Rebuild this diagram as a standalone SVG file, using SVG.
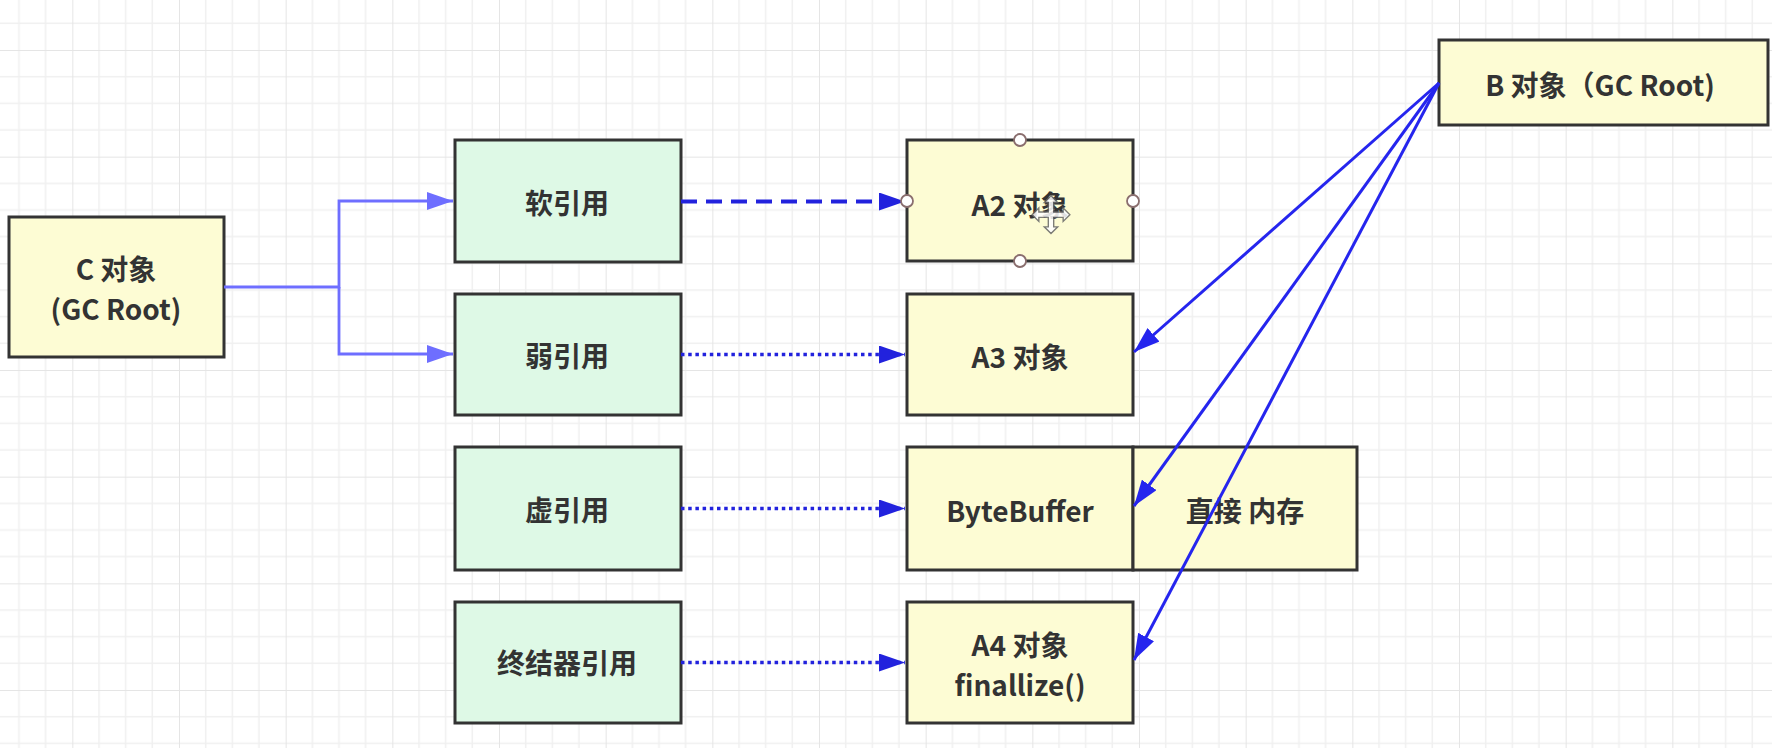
<svg xmlns="http://www.w3.org/2000/svg" width="1772" height="748" viewBox="0 0 1772 748">
<style>
.box{stroke:#333;stroke-width:3}
.y{fill:#fdfcd4}
.g{fill:#def9e6}
.t{font-family:"Noto Sans CJK SC","Noto Sans",sans-serif;font-weight:bold;font-size:28px;fill:#333;text-anchor:middle;dominant-baseline:central}
.c{fill:none;stroke:#6e6eff;stroke-width:2.8}
.b{fill:none;stroke:#2525ee;stroke-width:3}
.dash{fill:none;stroke:#2222dd;stroke-width:4;stroke-dasharray:16 9}
.dot{fill:none;stroke:#2222dd;stroke-width:3.5;stroke-dasharray:3.5 3.7}
.h{fill:#fff;stroke:#8a6e6e;stroke-width:1.8}
</style>
<defs>
<pattern id="grid" patternUnits="userSpaceOnUse" x="72.33" y="50" width="106.667" height="106.667">
<path d="M26.667 0V106.667M53.333 0V106.667M80 0V106.667M0 26.667H106.667M0 53.333H106.667M0 80H106.667" stroke="#f0f0f0" stroke-width="1.5" fill="none"/>
<path d="M0 0V106.667M0 0H106.667" stroke="#e5e5e5" stroke-width="2" fill="none"/>
</pattern>
<marker id="ac" viewBox="0 0 26 18" refX="26" refY="9" markerWidth="26" markerHeight="18" markerUnits="userSpaceOnUse" orient="auto"><path d="M0 0L26 9L0 18Z" fill="#6e6eff"/></marker>
<marker id="ab" viewBox="0 0 26 18" refX="26" refY="9" markerWidth="26" markerHeight="18" markerUnits="userSpaceOnUse" orient="auto"><path d="M0 0L26 9L0 18Z" fill="#2525ee"/></marker>
<marker id="ad" viewBox="0 0 26 18" refX="26" refY="9" markerWidth="26" markerHeight="18" markerUnits="userSpaceOnUse" orient="auto"><path d="M0 0L26 9L0 18Z" fill="#2222dd"/></marker>
</defs>
<rect width="1772" height="748" fill="#fff"/>
<rect width="1772" height="748" fill="url(#grid)"/>

<g id="nodeC"><rect class="box y" x="9" y="217" width="215" height="140"/><text class="t" x="116" y="268">C 对象</text><text class="t" x="116" y="308">(GC Root)</text></g>
<g id="nodeSoft"><rect class="box g" x="455" y="140" width="226" height="122"/><text class="t" x="567" y="202">软引用</text></g>
<g id="nodeWeak"><rect class="box g" x="455" y="294" width="226" height="121"/><text class="t" x="567" y="355">弱引用</text></g>
<g id="nodePhantom"><rect class="box g" x="455" y="447" width="226" height="123"/><text class="t" x="567" y="509">虚引用</text></g>
<g id="nodeFinal"><rect class="box g" x="455" y="602" width="226" height="121"/><text class="t" x="567" y="662">终结器引用</text></g>
<g id="nodeA2"><rect class="box y" x="907" y="140" width="226" height="121"/><text class="t" x="1020" y="204">A2 对象</text></g>
<g id="nodeA3"><rect class="box y" x="907" y="294" width="226" height="121"/><text class="t" x="1020" y="356">A3 对象</text></g>
<g id="nodeByteBuffer"><rect class="box y" x="907" y="447" width="226" height="123"/><text class="t" x="1020" y="510">ByteBuffer</text></g>
<g id="nodeDirect"><rect class="box y" x="1133" y="447" width="224" height="123"/><text class="t" x="1245" y="510">直接 内存</text></g>
<g id="nodeA4"><rect class="box y" x="907" y="602" width="226" height="121"/><text class="t" x="1020" y="644">A4 对象</text><text class="t" x="1020" y="684">finallize()</text></g>
<g id="nodeB"><rect class="box y" x="1439" y="40" width="329" height="85"/><text class="t" x="1600" y="84">B 对象（GC Root)</text></g>

<g id="connectors">
<path class="c" d="M224 287H339V201H453" marker-end="url(#ac)"/>
<path class="c" d="M339 287V354H453" marker-end="url(#ac)"/>
<path class="dash" d="M681 201.5H905" marker-end="url(#ad)"/>
<path class="dot" d="M681 354.5H905" marker-end="url(#ad)"/>
<path class="dot" d="M681 508.5H905" marker-end="url(#ad)"/>
<path class="dot" d="M681 662.5H905" marker-end="url(#ad)"/>
<path class="b" d="M1439 83L1134 352" marker-end="url(#ab)"/>
<path class="b" d="M1439 83L1134 506" marker-end="url(#ab)"/>
<path class="b" d="M1439 83L1134 660" marker-end="url(#ab)"/>
</g>

<g id="selection">
<circle class="h" cx="1020" cy="140" r="6"/>
<circle class="h" cx="1020" cy="261" r="6"/>
<circle class="h" cx="907" cy="201" r="6"/>
<circle class="h" cx="1133" cy="201" r="6"/>
<path transform="translate(1051 216) scale(1.35) translate(-1051 -214)" d="M1051 199l5 5h-3v7h7v-3l5 5-5 5v-3h-7v7h3l-5 5-5-5h3v-7h-7v3l-5-5 5-5v3h7v-7h-3z" fill="#fff" stroke="#666" stroke-width="1" opacity="0.85"/>
</g>
</svg>
